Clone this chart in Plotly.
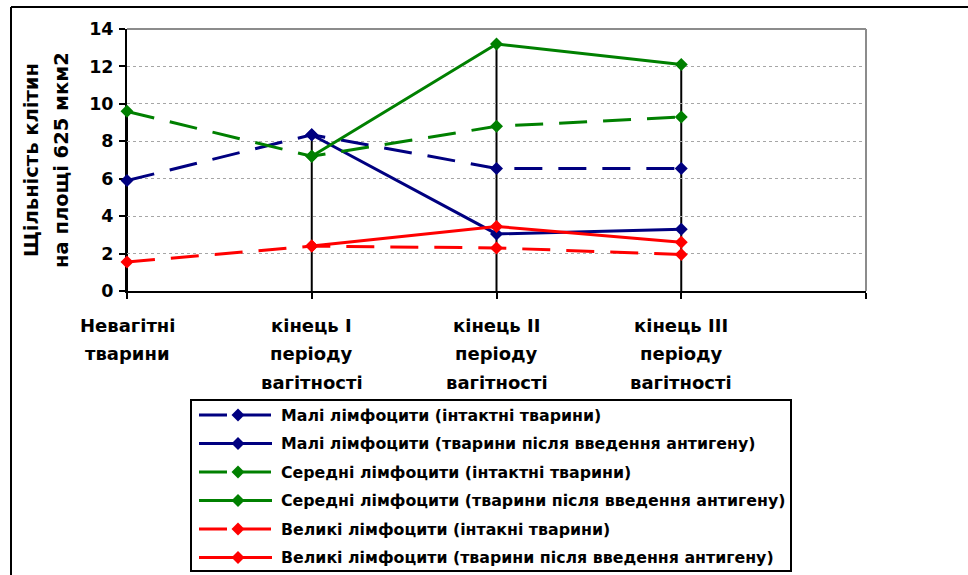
import plotly.graph_objects as go

# ---- data -------------------------------------------------------------
category_lines = [
    ["Невагітні", "тварини"],
    ["кінець I", "періоду", "вагітності"],
    ["кінець II", "періоду", "вагітності"],
    ["кінець III", "періоду", "вагітності"],
]
x_index = [0, 1, 2, 3]

small_intact = [5.9, 8.35, 6.55, 6.55]
small_antigen = [None, 8.35, 3.05, 3.3]
medium_intact = [9.6, 7.2, 8.8, 9.3]
medium_antigen = [None, 7.2, 13.2, 12.1]
large_intact = [1.55, 2.4, 2.3, 1.95]
large_antigen = [None, 2.4, 3.45, 2.6]

series_names = [
    "Малі лімфоцити (інтактні тварини)",
    "Малі лімфоцити (тварини після введення антигену)",
    "Середні лімфоцити (інтактні тварини)",
    "Середні лімфоцити (тварини після введення антигену)",
    "Великі лімфоцити (інтакні тварини)",
    "Великі лімфоцити (тварини після введення антигену)",
]
series_values = [small_intact, small_antigen, medium_intact,
                 medium_antigen, large_intact, large_antigen]
series_colors = ["#000080", "#000080", "#008000", "#008000", "#FF0000", "#FF0000"]
series_dashed = [True, False, True, False, True, False]

y_ticks = [0, 2, 4, 6, 8, 10, 12, 14]
y_title_lines = ["Щільність клітин", "на площі 625 мкм2"]

# ---- geometry ---------------------------------------------------------
W, H = 968, 575
PX_L, PX_R, PX_T, PX_B = 127, 866, 29, 291
FONT = "DejaVu Sans, Arial, sans-serif"
DASH = "28px,16px"
CLEAR = "rgba(0,0,0,0)"


def px_x(px):
    return px / W


def px_y(py):
    return (H - py) / H


fig = go.Figure()

for name, vals, col, dashed in zip(series_names, series_values,
                                   series_colors, series_dashed):
    fig.add_trace(go.Scatter(
        x=x_index, y=vals, mode="lines+markers", name=name,
        line=dict(color=col, width=3, dash=DASH if dashed else "solid"),
        marker=dict(symbol="diamond", size=10, color=col),
        cliponaxis=False, showlegend=False, connectgaps=False,
    ))

shapes = []
# drop lines from the highest point of each category down to the axis
for i in x_index:
    top = max(v[i] for v in series_values if v[i] is not None)
    shapes.append(dict(type="line", xref="x", yref="y", x0=i, x1=i, y0=0, y1=top,
                       line=dict(color="black", width=2), layer="below"))

# plot area border (top and right)
shapes.append(dict(type="line", xref="paper", yref="paper",
                   x0=px_x(PX_L), x1=px_x(PX_R), y0=px_y(PX_T), y1=px_y(PX_T),
                   line=dict(color="#8c8c8c", width=2)))
shapes.append(dict(type="line", xref="paper", yref="paper",
                   x0=px_x(PX_R), x1=px_x(PX_R), y0=px_y(PX_T), y1=px_y(PX_B),
                   line=dict(color="#8c8c8c", width=2)))

# outer chart frame
shapes.append(dict(type="line", xref="paper", yref="paper",
                   x0=px_x(11), x1=1.02, y0=px_y(7), y1=px_y(7),
                   line=dict(color="black", width=2)))
shapes.append(dict(type="line", xref="paper", yref="paper",
                   x0=px_x(11), x1=px_x(11), y0=px_y(7), y1=-0.02,
                   line=dict(color="black", width=2)))

# legend box
LEG_L, LEG_R, LEG_T, LEG_B = 191, 791, 400, 571
shapes.append(dict(type="rect", xref="paper", yref="paper",
                   x0=px_x(LEG_L), x1=px_x(LEG_R), y0=px_y(LEG_B), y1=px_y(LEG_T),
                   line=dict(color="black", width=2)))

annotations = []
# category labels under the x axis
for i, lines in zip(x_index, category_lines):
    for k, txt in enumerate(lines):
        annotations.append(dict(
            x=i, xref="x", y=px_y(325 + 28.5 * k), yref="paper",
            text=txt, showarrow=False, xanchor="center", yanchor="middle",
            font=dict(family=FONT, size=18, color="black", weight="bold"),
        ))

# y axis title (two rotated lines)
for xc, txt in zip([32, 62], y_title_lines):
    annotations.append(dict(
        x=px_x(xc), xref="paper", y=px_y(160), yref="paper",
        text=txt, textangle=-90, showarrow=False,
        xanchor="center", yanchor="middle",
        font=dict(family=FONT, size=19.5, color="black", weight="bold"),
    ))

# legend entries: sample line + diamond drawn on a pixel overlay axis
row_y = [415 + 28.5 * k for k in range(len(series_names))]
for name, col, dashed, ry in zip(series_names, series_colors, series_dashed, row_y):
    fig.add_trace(go.Scatter(
        x=[199, 272], y=[ry, ry], xaxis="x2", yaxis="y2", mode="lines",
        line=dict(color=col, width=3, dash=DASH if dashed else "solid"),
        showlegend=False, hoverinfo="skip",
    ))
    fig.add_trace(go.Scatter(
        x=[238], y=[ry], xaxis="x2", yaxis="y2", mode="markers",
        marker=dict(symbol="diamond", size=10, color=col),
        showlegend=False, hoverinfo="skip",
    ))
    annotations.append(dict(
        x=px_x(279), xref="paper", y=px_y(ry), yref="paper",
        text=name, showarrow=False, xanchor="left", yanchor="middle",
        font=dict(family=FONT, size=15.8, color="black", weight="bold"),
    ))

fig.update_layout(
    width=W, height=H,
    margin=dict(l=0, r=0, t=0, b=0, autoexpand=False),
    paper_bgcolor="white", plot_bgcolor=CLEAR,
    showlegend=False,
    shapes=shapes, annotations=annotations,
    xaxis=dict(
        domain=[px_x(PX_L), px_x(PX_R)], range=[0, 4],
        tickvals=[0, 1, 2, 3, 4], ticktext=["", "", "", "", ""],
        ticks="outside", ticklen=6, tickwidth=2, tickcolor="black",
        showline=True, linecolor="black", linewidth=2, automargin=False,
        showgrid=False, zeroline=False, layer="below traces", fixedrange=True,
    ),
    yaxis=dict(
        domain=[px_y(PX_B), px_y(PX_T)], range=[0, 14],
        tickvals=y_ticks,
        ticks="outside", ticklen=6, tickwidth=2, tickcolor="black",
        ticklabelstandoff=2, automargin=False,
        tickfont=dict(family=FONT, size=17.5, color="black", weight="bold"),
        showline=True, linecolor="black", linewidth=2,
        showgrid=True, gridcolor="#a6a6a6", gridwidth=1, griddash="dot",
        zeroline=False, layer="below traces", fixedrange=True,
    ),
    xaxis2=dict(domain=[0, 1], range=[0, W], anchor="y2", visible=False,
                automargin=False, fixedrange=True),
    yaxis2=dict(domain=[0, 1], range=[H, 0], anchor="x2", visible=False,
                automargin=False, fixedrange=True),
)

fig.write_html("out.html")
